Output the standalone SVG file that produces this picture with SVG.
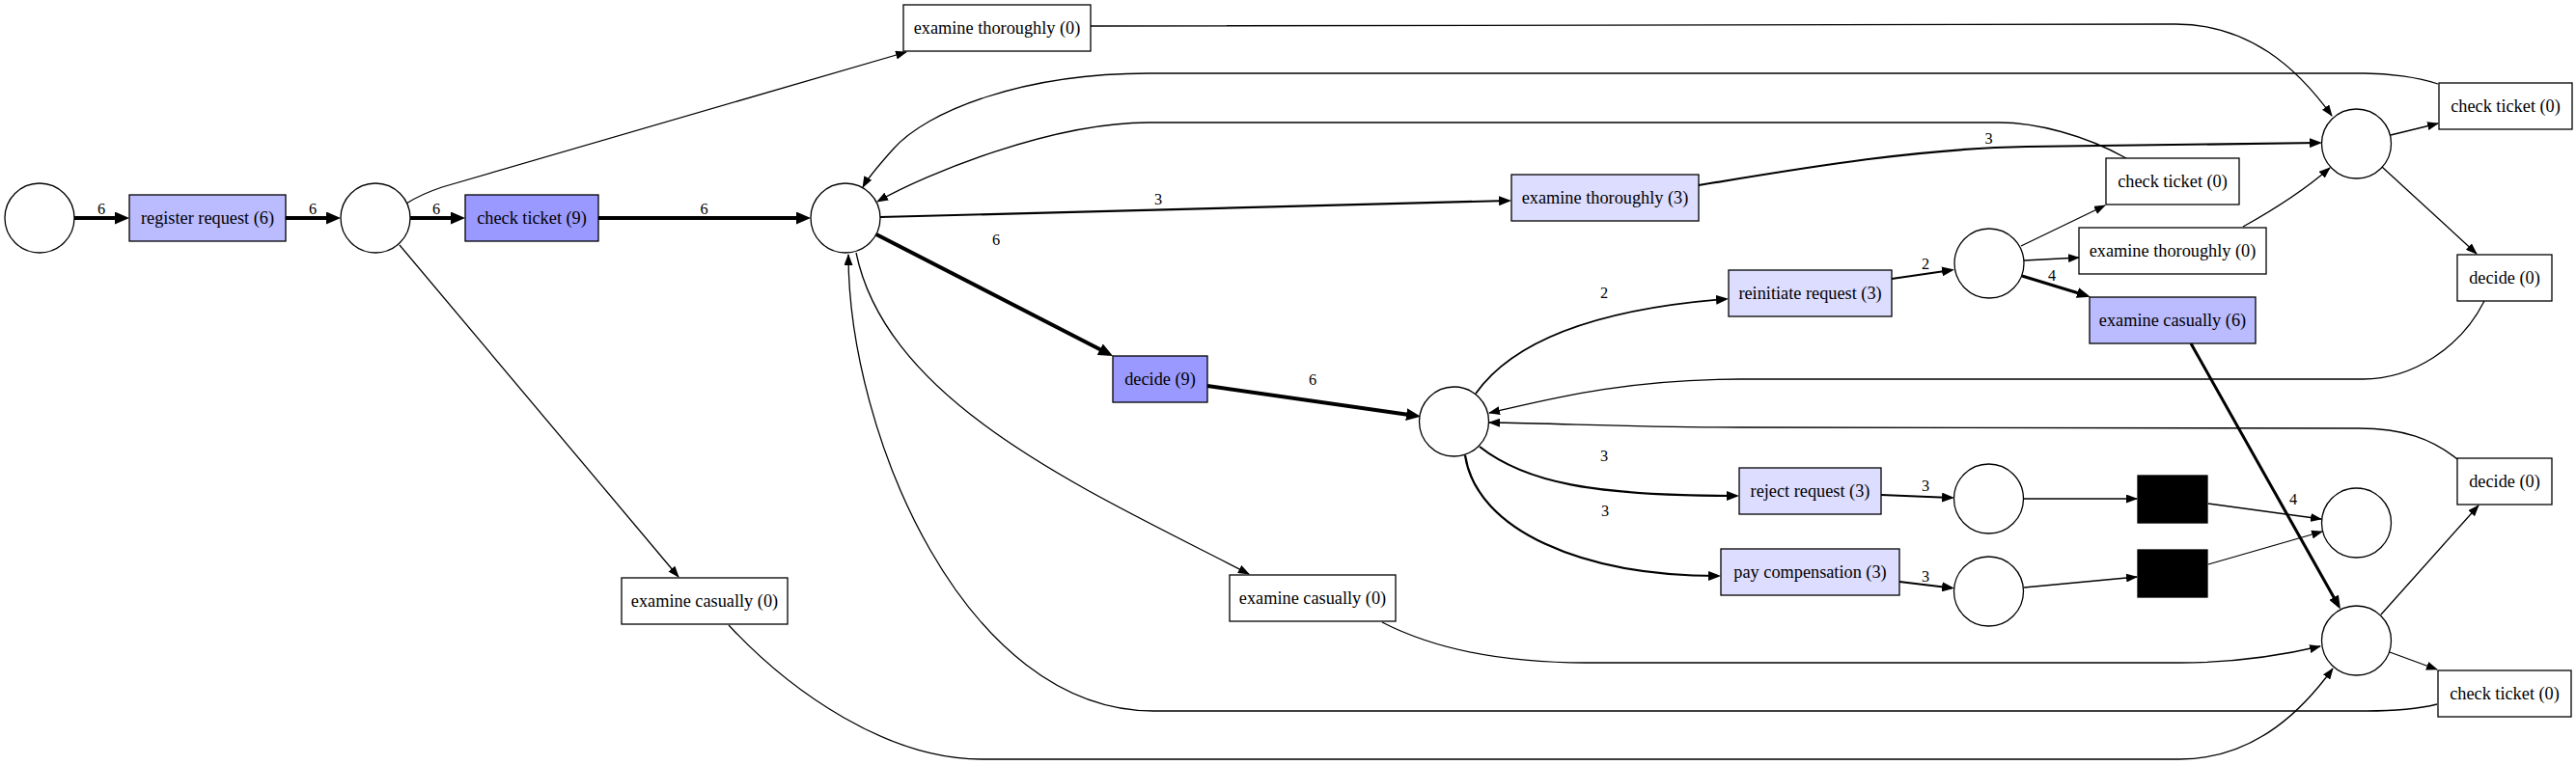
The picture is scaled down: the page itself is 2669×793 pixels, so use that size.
<svg xmlns="http://www.w3.org/2000/svg" width="2669" height="793" viewBox="0 0 2669 793">
<style>
.pl{fill:#fff;stroke:#000;stroke-width:1.3}
.tr{stroke:#000;stroke-width:1.3}
.c0{fill:#fff}.c3{fill:#ddddff}.c6{fill:#bbbbff}.c9{fill:#9999ff}.blk{fill:#000}
.t{font-family:"Liberation Serif","Times New Roman",serif;font-size:18.3px;text-anchor:middle;fill:#000}
.el{font-family:"Liberation Serif","Times New Roman",serif;font-size:16.3px;text-anchor:middle;fill:#000}
#edges path{fill:none;stroke:#000}
.e1{stroke-width:1.3;marker-end:url(#a1)}
.e2{stroke-width:1.8;marker-end:url(#a2)}
.e3{stroke-width:2.2;marker-end:url(#a2)}
.e4{stroke-width:3;marker-end:url(#a4)}
.e6{stroke-width:4;marker-end:url(#a6)}
</style>
<defs>
<marker id="a1" markerUnits="userSpaceOnUse" markerWidth="12" markerHeight="9" refX="11" refY="4.5" orient="auto"><path d="M0,0 L12,4.5 L0,9 z" fill="#000"/></marker>
<marker id="a2" markerUnits="userSpaceOnUse" markerWidth="13" markerHeight="10" refX="10" refY="5" orient="auto"><path d="M0,0 L13,5 L0,10 z" fill="#000"/></marker>
<marker id="a4" markerUnits="userSpaceOnUse" markerWidth="14" markerHeight="11" refX="10" refY="5.5" orient="auto"><path d="M0,0 L14,5.5 L0,11 z" fill="#000"/></marker>
<marker id="a6" markerUnits="userSpaceOnUse" markerWidth="15" markerHeight="13" refX="10" refY="6.5" orient="auto"><path d="M0,0 L15,6.5 L0,13 z" fill="#000"/></marker>
</defs>
<rect width="2669" height="793" fill="#fff"/>
<g id="edges">
<path class="e6" d="M77,226 L129,226"/>
<path class="e6" d="M296,226 L348,226"/>
<path class="e6" d="M425,226 L477,226"/>
<path class="e6" d="M620,226 L835,226"/>
<path class="e1" d="M421,211 C435,202 446,198 458,194 L939,54"/>
<path class="e1" d="M414,254 L703,598"/>
<path class="e1" d="M1130,27 L2254,25 C2330,25 2380,70 2416,120"/>
<path class="e1" d="M2526,87 C2505,80 2475,76 2450,76 L1190,76 C1060,76 960,115 925,155 C910,172 900,183 894,194"/>
<path class="e1" d="M2203,164 C2160,140 2110,127 2071,127 L1190,127 C1090,127 960,180 909,209"/>
<path class="e3" d="M912,225 L1563,208"/>
<path class="e3" d="M1760,192 C1880,172 1990,154 2100,152 L2403,148"/>
<path class="e6" d="M908,243 L1148.6,366.7"/>
<path class="e6" d="M1251,400 L1467,431"/>
<path class="e1" d="M887,262 C920,420 1130,510 1294,595"/>
<path class="e1" d="M1432,645 C1500,680 1580,687 1643,687 L2258,687 C2320,687 2370,678 2404,670"/>
<path class="e1" d="M755,648 C820,718 920,787 1017,787 L2258,787 C2340,787 2390,730 2417,693"/>
<path class="e1" d="M2525,730 C2505,735 2480,737 2452,737 L1195,737 C1000,737 879,450 879,264"/>
<path class="e2" d="M1529,408 C1570,350 1660,320 1788,310"/>
<path class="e2" d="M1960,289 L2022,280"/>
<path class="e1" d="M2094,255 L2181,213"/>
<path class="e1" d="M2097,270 L2154,267"/>
<path class="e4" d="M2095,286 L2162,306.5"/>
<path class="e1" d="M2324,235 C2360,215 2390,195 2414,174"/>
<path class="e1" d="M2477,140 L2526,128"/>
<path class="e1" d="M2468,173 L2566,263"/>
<path class="e1" d="M2574,312 C2550,360 2500,393 2448,393 L1804,393 C1680,393 1600,415 1543,428"/>
<path class="e1" d="M2546,476 C2520,455 2490,444 2444,444 L1804,443 C1700,443 1620,439 1543,438"/>
<path class="e3" d="M1533,463 C1580,500 1650,514 1799,514"/>
<path class="e3" d="M1518,472 C1530,550 1640,597 1780,597"/>
<path class="e3" d="M1949,513 L2022,516"/>
<path class="e3" d="M1968,603 L2022,609.5"/>
<path class="e1" d="M2097,517 L2214,517"/>
<path class="e1" d="M2097,609 L2214,598"/>
<path class="e1" d="M2288,522 L2405,538"/>
<path class="e1" d="M2288,585 L2406,551"/>
<path class="e4" d="M2270,356 L2423,628"/>
<path class="e1" d="M2467,637 L2568,524"/>
<path class="e1" d="M2476,676 L2525,694"/>
<text class="el" x="105" y="222">6</text>
<text class="el" x="324" y="222">6</text>
<text class="el" x="452" y="222">6</text>
<text class="el" x="729.6" y="222">6</text>
<text class="el" x="1200" y="211.5">3</text>
<text class="el" x="2060.5" y="148.5">3</text>
<text class="el" x="1032" y="253.5">6</text>
<text class="el" x="1360" y="398.5">6</text>
<text class="el" x="1662" y="308.5">2</text>
<text class="el" x="1995" y="278.5">2</text>
<text class="el" x="2126" y="290.5">4</text>
<text class="el" x="1662" y="477.5">3</text>
<text class="el" x="1663" y="534.5">3</text>
<text class="el" x="1995" y="508.5">3</text>
<text class="el" x="1995" y="602.5">3</text>
<text class="el" x="2376" y="522.5">4</text>
</g>
<g id="p1"><circle class="pl" cx="41" cy="226" r="36"/></g>
<g id="p2"><circle class="pl" cx="389" cy="226" r="36"/></g>
<g id="p3"><circle class="pl" cx="876" cy="226" r="36"/></g>
<g id="p4"><circle class="pl" cx="1506.5" cy="437" r="36"/></g>
<g id="p5"><circle class="pl" cx="2061" cy="273" r="36"/></g>
<g id="p6"><circle class="pl" cx="2441.5" cy="149" r="36"/></g>
<g id="p7"><circle class="pl" cx="2060.5" cy="517" r="36"/></g>
<g id="p8"><circle class="pl" cx="2060.5" cy="613" r="36"/></g>
<g id="p9"><circle class="pl" cx="2441.5" cy="542" r="36"/></g>
<g id="p10"><circle class="pl" cx="2441.5" cy="664" r="36"/></g>
<g id="t_register"><rect class="tr c6" x="134" y="202" width="162" height="48"/><text class="t" x="215" y="231.5">register request (6)</text></g>
<g id="t_check9"><rect class="tr c9" x="482" y="202" width="138" height="48"/><text class="t" x="551" y="231.5">check ticket (9)</text></g>
<g id="t_exth0a"><rect class="tr c0" x="936" y="5" width="194" height="48"/><text class="t" x="1033" y="34.5">examine thoroughly (0)</text></g>
<g id="t_exth3"><rect class="tr c3" x="1566" y="181" width="194" height="48"/><text class="t" x="1663" y="210.5">examine thoroughly (3)</text></g>
<g id="t_decide9"><rect class="tr c9" x="1153" y="369" width="98" height="48"/><text class="t" x="1202" y="398.5">decide (9)</text></g>
<g id="t_excas0a"><rect class="tr c0" x="644" y="599" width="172" height="48"/><text class="t" x="730" y="628.5">examine casually (0)</text></g>
<g id="t_excas0b"><rect class="tr c0" x="1274" y="596" width="172" height="48"/><text class="t" x="1360" y="625.5">examine casually (0)</text></g>
<g id="t_reinit"><rect class="tr c3" x="1791" y="280" width="169" height="48"/><text class="t" x="1875.5" y="309.5">reinitiate request (3)</text></g>
<g id="t_check0b"><rect class="tr c0" x="2182" y="164" width="138" height="48"/><text class="t" x="2251" y="193.5">check ticket (0)</text></g>
<g id="t_exth0b"><rect class="tr c0" x="2154" y="236" width="194" height="48"/><text class="t" x="2251" y="265.5">examine thoroughly (0)</text></g>
<g id="t_excas6"><rect class="tr c6" x="2165" y="308" width="172" height="48"/><text class="t" x="2251" y="337.5">examine casually (6)</text></g>
<g id="t_check0a"><rect class="tr c0" x="2527" y="86" width="138" height="48"/><text class="t" x="2596" y="115.5">check ticket (0)</text></g>
<g id="t_decide0a"><rect class="tr c0" x="2546" y="264" width="98" height="48"/><text class="t" x="2595" y="293.5">decide (0)</text></g>
<g id="t_reject"><rect class="tr c3" x="1802" y="485" width="147" height="48"/><text class="t" x="1875.5" y="514.5">reject request (3)</text></g>
<g id="t_pay"><rect class="tr c3" x="1783" y="569" width="185" height="48"/><text class="t" x="1875.5" y="598.5">pay compensation (3)</text></g>
<g id="t_tau1"><rect class="tr blk" x="2215" y="493" width="72" height="49"/></g>
<g id="t_tau2"><rect class="tr blk" x="2215" y="570" width="72" height="49"/></g>
<g id="t_decide0b"><rect class="tr c0" x="2546" y="475" width="98" height="48"/><text class="t" x="2595" y="504.5">decide (0)</text></g>
<g id="t_check0c"><rect class="tr c0" x="2526" y="695" width="138" height="48"/><text class="t" x="2595" y="724.5">check ticket (0)</text></g>
</svg>
